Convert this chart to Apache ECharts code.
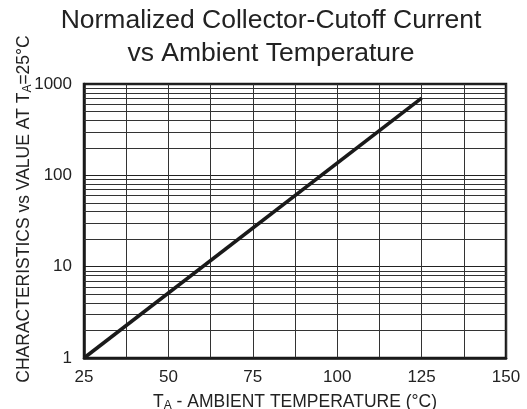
<!DOCTYPE html>
<html>
<head>
<meta charset="utf-8">
<script src="https://cdn.jsdelivr.net/npm/echarts@6/dist/echarts.min.js"></script>
<style>html,body{margin:0;padding:0;background:#fff}#c{width:527px;height:409px}</style>
</head>
<body>
<div id="c"></div>
<script>
// Data
var temperatures = [25, 125];            // T_A (°C)
var normalizedCurrent = [1, 700];        // relative to value at 25°C
var xTickLabels = ['25', '50', '75', '100', '125', '150'];
var yTickLabels = ['1', '10', '100', '1000'];
var minorGridValues = [2,3,4,5,6,7,8,9,20,30,40,50,60,70,80,90,200,300,400,500,600,700,800,900];

var FONT = 'Liberation Sans, Arial, Helvetica, sans-serif';
var chart = echarts.init(document.getElementById('c'), null, {renderer: 'canvas'});

var seriesData = temperatures.map(function (t, i) { return [t, normalizedCurrent[i]]; });

chart.setOption({
  animation: false,
  backgroundColor: '#fff',
  title: {
    text: 'Normalized Collector-Cutoff Current\nvs Ambient Temperature',
    left: 271,
    textAlign: 'center',
    top: 4,
    padding: 0,
    textStyle: {fontFamily: FONT, fontSize: 26.5, fontWeight: 'normal', color: '#222', lineHeight: 33, align: 'center'}
  },
  grid: {left: 84, right: 21, top: 84, bottom: 51, show: true, borderColor: '#1a1a1a', borderWidth: 2.5,
         containLabel: false, outerBoundsMode: 'none'},
  xAxis: {
    type: 'value', min: 25, max: 150, interval: 12.5,
    name: '{t|T}{s|A}{t| - AMBIENT TEMPERATURE (°C)}',
    nameLocation: 'middle', nameGap: 34, nameMoveOverlap: false,
    nameTextStyle: {rich: {
      t: {fontFamily: FONT, fontSize: 17.5, color: '#222'},
      s: {fontFamily: FONT, fontSize: 12, color: '#222', verticalAlign: 'bottom', padding: [8, 0, 0, 0]}
    }},
    axisLine: {show: true, lineStyle: {color: '#1a1a1a', width: 2.5}},
    axisTick: {show: false},
    axisLabel: {
      margin: 11, fontFamily: FONT, fontSize: 17, color: '#222',
      formatter: function (v) {
        var s = String(Math.round(v));
        return xTickLabels.indexOf(s) >= 0 && Math.abs(v - Math.round(v)) < 1e-6 ? s : '';
      }
    },
    splitLine: {show: true, lineStyle: {color: '#333', width: 1}}
  },
  yAxis: {
    type: 'log', logBase: 10, min: 1, max: 1000,
    name: '{t|CHARACTERISTICS vs VALUE AT T}{s|A}{t|=25°C}',
    nameLocation: 'middle', nameGap: 50, nameMoveOverlap: false,
    nameTextStyle: {padding: [0, 0, 0, 24], rich: {
      t: {fontFamily: FONT, fontSize: 17.5, color: '#222'},
      s: {fontFamily: FONT, fontSize: 12, color: '#222', verticalAlign: 'bottom', padding: [8, 0, 0, 0]}
    }},
    axisLine: {show: true, lineStyle: {color: '#1a1a1a', width: 2.5}},
    axisTick: {show: false},
    axisLabel: {
      margin: 12, fontFamily: FONT, fontSize: 17, color: '#222',
      formatter: function (v) { var s = String(Math.round(v)); return yTickLabels.indexOf(s) >= 0 ? s : ''; }
    },
    splitLine: {show: true, lineStyle: {color: '#222', width: 1.2}}
  },
  series: [
    {
      type: 'line', data: [], silent: true,
      markLine: {
        silent: true, symbol: 'none', animation: false,
        label: {show: false},
        lineStyle: {color: '#333', width: 1, type: 'solid'},
        data: minorGridValues.map(function (v) { return {yAxis: v}; })
      }
    },
    {
      type: 'line', data: seriesData, showSymbol: false, symbol: 'none',
      lineStyle: {color: '#1a1a1a', width: 3.6}, z: 5
    }
  ]
});
</script>
</body>
</html>
